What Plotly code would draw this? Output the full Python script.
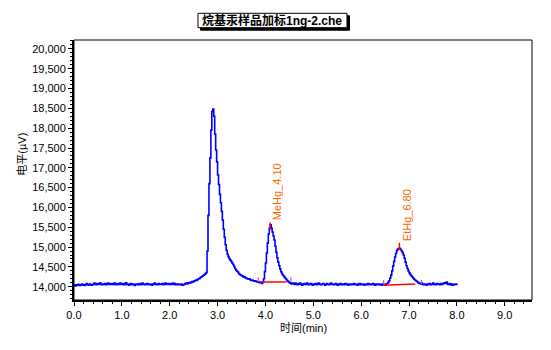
import numpy as np
import plotly.graph_objects as go

# Detector signal (µV), one sample every 0.02 min from 0.00 to 8.00 min
sample_interval_min = 0.02
signal_uv = [
    14040, 14020, 14050, 14030, 14060, 14040, 14030, 14050, 14070, 14040,
    14050, 14030, 14060, 14080, 14050, 14040, 14070, 14060, 14040, 14050,
    14060, 14090, 14070, 14050, 14080, 14060, 14070, 14100, 14060, 14050,
    14070, 14060, 14080, 14050, 14070, 14090, 14060, 14080, 14070, 14060,
    14080, 14060, 14090, 14070, 14050, 14080, 14070, 14060, 14090, 14070,
    14060, 14080, 14050, 14070, 14100, 14060, 14070, 14040, 14060, 14080,
    14050, 14070, 14060, 14030, 14060, 14070, 14050, 14060, 14080, 14050,
    14060, 14090, 14060, 14070, 14050, 14060, 14080, 14060, 14050, 14070,
    14060, 14040, 14070, 14060, 14090, 14070, 14050, 14060, 14080, 14060,
    14070, 14060, 14080, 14050, 14070, 14090, 14060, 14080, 14070, 14060,
    14080, 14060, 14070, 14090, 14060, 14080, 14050, 14060, 14070, 14050,
    14060, 14050, 14070, 14040, 14050, 14060, 14080, 14090, 14070, 14100,
    14090, 14110, 14100, 14130, 14120, 14140, 14150, 14170, 14160, 14190,
    14200, 14210, 14240, 14250, 14270, 14290, 14310, 14330, 14360, 14900,
    15800, 16600, 17250, 17950, 18420, 18480, 18300, 17850, 17450, 17150,
    16820, 16580, 16330, 16120, 15900, 15680, 15450, 15250, 15060, 14920,
    14820, 14760, 14710, 14670, 14640, 14600, 14560, 14510, 14460, 14420,
    14390, 14370, 14330, 14310, 14290, 14280, 14260, 14240, 14250, 14220,
    14210, 14200, 14190, 14200, 14170, 14160, 14170, 14150, 14140, 14150,
    14130, 14120, 14130, 14110, 14100, 14110, 14080, 14120, 14200, 14380,
    14600, 14850, 15100, 15330, 15480, 15560, 15480, 15380, 15280, 15180,
    15020, 14870, 14730, 14620, 14530, 14450, 14380, 14330, 14290, 14260,
    14230, 14200, 14170, 14140, 14120, 14100, 14090, 14070, 14090, 14080,
    14060, 14090, 14070, 14050, 14080, 14060, 14090, 14070, 14040, 14060,
    14080, 14060, 14070, 14090, 14060, 14050, 14070, 14080, 14060, 14040,
    14070, 14060, 14080, 14050, 14070, 14090, 14060, 14070, 14050, 14060,
    14080, 14070, 14040, 14060, 14080, 14060, 14050, 14070, 14090, 14060,
    14070, 14050, 14060, 14080, 14060, 14040, 14070, 14060, 14080, 14050,
    14060, 14070, 14050, 14080, 14060, 14070, 14040, 14060, 14070, 14050,
    14070, 14060, 14080, 14050, 14060, 14070, 14040, 14060, 14080, 14060,
    14050, 14070, 14060, 14040, 14070, 14060, 14050, 14080, 14060, 14070,
    14050, 14060, 14080, 14060, 14040, 14070, 14050, 14060, 14070, 14050,
    14060, 14040, 14070, 14050, 14060, 14050, 14070, 14080, 14110, 14150,
    14220, 14300, 14400, 14520, 14640, 14750, 14840, 14910, 14950, 14960,
    14970, 14940, 14900, 14860, 14800, 14720, 14620, 14530, 14460, 14400,
    14350, 14310, 14280, 14250, 14220, 14190, 14170, 14150, 14130, 14110,
    14090, 14080, 14070, 14090, 14060, 14050, 14070, 14060, 14040, 14070,
    14060, 14080, 14050, 14070, 14060, 14090, 14070, 14050, 14060, 14080,
    14070, 14060, 14050, 14080, 14060, 14070, 14090, 14100, 14080, 14120,
    14070, 14060, 14080, 14050, 14070, 14040, 14060, 14050, 14070, 14060,
    14080,
]
time_min = np.round(np.arange(len(signal_uv)) * sample_interval_min, 2)

# Identified peaks
peak_names = ["MeHg", "EtHg"]
peak_rt_min = [4.10, 6.80]
peak_mark_low_uv = [15430, 14930]
peak_mark_top_uv = [15620, 15110]
# Integration baselines (start/end time and level)
base_t0 = [3.90, 6.47]
base_t1 = [4.44, 7.13]
base_v0 = [14120, 14035]
base_v1 = [14120, 14070]
# Integration start/end markers
event_t_start = [3.85, 6.47]
event_t_end = [4.53, 7.26]
event_low_uv = [14125, 14070]
event_high_uv = [14240, 14170]

y_ticks = list(range(14000, 20001, 500))
x_ticks = [0.0, 1.0, 2.0, 3.0, 4.0, 5.0, 6.0, 7.0, 8.0, 9.0]

FONT = "Liberation Sans, Arial, Noto Sans CJK SC"
ORANGE = "#FF6600"

fig = go.Figure()

fig.add_trace(go.Scatter(
    x=time_min, y=signal_uv, mode="lines",
    line=dict(color="#0000FF", width=1.6, shape="hv"),
    hoverinfo="skip", showlegend=False,
))

for i in range(len(peak_names)):
    # integration baseline
    fig.add_trace(go.Scatter(
        x=[base_t0[i], base_t1[i]], y=[base_v0[i], base_v1[i]], mode="lines",
        line=dict(color="#FF0000", width=1.5), showlegend=False, hoverinfo="skip",
    ))
    # start/end event markers
    for t in (event_t_start[i], event_t_end[i]):
        fig.add_trace(go.Scatter(
            x=[t, t], y=[event_low_uv[i], event_high_uv[i]], mode="lines",
            line=dict(color="#E040E0", width=1.2), showlegend=False, hoverinfo="skip",
        ))
    # apex marker
    fig.add_trace(go.Scatter(
        x=[peak_rt_min[i], peak_rt_min[i]], y=[peak_mark_low_uv[i], peak_mark_top_uv[i]],
        mode="lines", line=dict(color="#FF0000", width=1.5),
        showlegend=False, hoverinfo="skip",
    ))
    fig.add_annotation(
        x=peak_rt_min[i], y=peak_mark_top_uv[i], xref="x", yref="y",
        text=f"{peak_names[i]}_{peak_rt_min[i]:.2f}", textangle=-90,
        showarrow=False, xanchor="center", yanchor="bottom", xshift=7, yshift=0,
        font=dict(family=FONT, size=11, color=ORANGE),
    )

# Boxed title with drop shadow (box drawn as shapes in paper coordinates)
tb_x0, tb_x1, tb_y0, tb_y1 = 0.2707, 0.596, 1.0473, 1.1027
sh_dx, sh_dy = 0.0055, 0.0096
fig.add_shape(type="rect", xref="paper", yref="paper",
              x0=tb_x0 + sh_dx, x1=tb_x1 + sh_dx, y0=tb_y0 - sh_dy, y1=tb_y1 - sh_dy,
              line=dict(color="#000000", width=1), fillcolor="#000000", layer="above")
fig.add_shape(type="rect", xref="paper", yref="paper",
              x0=tb_x0, x1=tb_x1, y0=tb_y0, y1=tb_y1,
              line=dict(color="#000000", width=1), fillcolor="#FFFFFF", layer="above")
fig.add_annotation(
    x=(tb_x0 + tb_x1) / 2, y=(tb_y0 + tb_y1) / 2, xref="paper", yref="paper",
    text="<b>烷基汞样品加标1ng-2.che</b>",
    showarrow=False, xanchor="center", yanchor="middle",
    font=dict(family=FONT, size=12, color="#000000"),
)

# Axis titles
fig.add_annotation(
    x=0.5, y=-0.108, xref="paper", yref="paper", text="时间(min)",
    showarrow=False, xanchor="center", yanchor="middle",
    font=dict(family=FONT, size=11, color="#000000"),
)
fig.add_annotation(
    x=-0.113, y=0.56, xref="paper", yref="paper", text="电平(µV)", textangle=-90,
    showarrow=False, xanchor="center", yanchor="middle",
    font=dict(family=FONT, size=11, color="#000000"),
)

# Thin frame around the plot area
fig.add_shape(type="rect", xref="paper", yref="paper", x0=0, y0=0, x1=1, y1=1,
              line=dict(color="#000000", width=1), layer="above")

fig.update_layout(
    width=551, height=350,
    margin=dict(l=74, r=19, t=40, b=50),
    paper_bgcolor="#FFFFFF", plot_bgcolor="#FFFFFF",
    font=dict(family=FONT, size=11, color="#000000"),
    showlegend=False,
)
fig.update_xaxes(
    range=[0, 9.57], tickvals=x_ticks, ticktext=[f"{v:.1f}" for v in x_ticks],
    showgrid=False, zeroline=False,
    showline=True, linecolor="#000000", linewidth=2,
    ticks="outside", ticklen=4, tickcolor="#000000", tickwidth=1,
    minor=dict(dtick=0.2, ticks="outside", ticklen=2, tickcolor="#000000", showgrid=False),
    tickfont=dict(family=FONT, size=11, color="#000000"),
)
fig.update_yaxes(
    range=[13665, 20225], tickvals=y_ticks, ticktext=[f"{v:,}" for v in y_ticks],
    showgrid=False, zeroline=False,
    showline=True, linecolor="#000000", linewidth=2,
    ticks="outside", ticklen=4, tickcolor="#000000", tickwidth=1,
    minor=dict(dtick=100, ticks="outside", ticklen=2, tickcolor="#000000", showgrid=False),
    tickfont=dict(family=FONT, size=11, color="#000000"),
)

fig.write_html("out.html")
